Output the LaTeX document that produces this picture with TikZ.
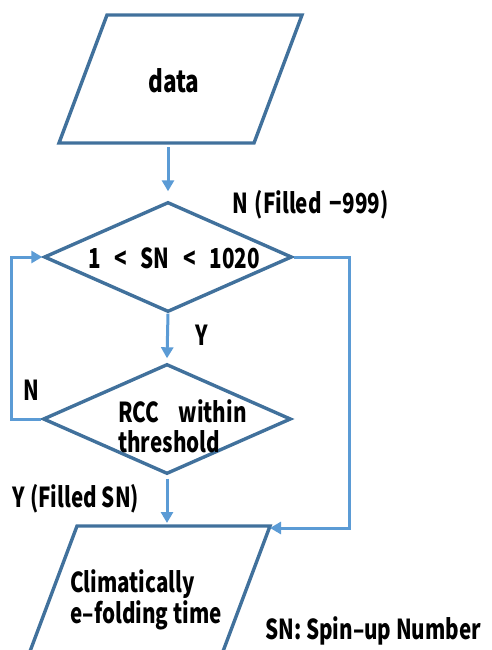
\documentclass[tikz,border=0pt]{standalone}
\usepackage{fontspec}
\setmainfont{Noto Sans CJK JP}[FakeStretch=0.75]
\usetikzlibrary{shapes.geometric,arrows.meta,calc}
\definecolor{outl}{HTML}{41719C}
\definecolor{connc}{HTML}{5B9BD5}
\begin{document}
\begin{tikzpicture}[x=1pt,y=-1pt,
  font=\fontsize{27.5}{31}\selectfont\bfseries,
  shapeline/.style={draw=outl, line width=3.4pt, line join=miter},
  conn/.style={draw=connc, line width=3pt, -{Triangle[length=11pt,width=12pt]}},
  dec/.style={shapeline, diamond, minimum width=248pt, minimum height=110pt, inner sep=0pt},
  txt/.style={inner sep=0pt, anchor=base west}]
\useasboundingbox (0,0) rectangle (491,650);
\clip (0,0) rectangle (491,650);
% input parallelogram
\coordinate (dTL) at (107,15);
\coordinate (dTR) at (302,15);
\coordinate (dBR) at (254,143);
\coordinate (dBL) at (59,143);
\draw[shapeline] (dTL) -- (dTR) -- (dBR) -- (dBL) -- cycle;
% output parallelogram
\coordinate (oTL) at (77,526);
\coordinate (oTR) at (270,526);
\coordinate (oBR) at (222,654);
\coordinate (oBL) at (29,654);
\draw[shapeline] (oTL) -- (oTR) -- (oBR) -- (oBL) -- cycle;
% decisions
\node[dec] (d1) at (168,257) {};
\node[dec] (d2) at (167,419) {};
% texts
\node[txt] (tdata) at (148,93) {\fontsize{30}{34}\selectfont data};
\node[txt] (t1) at (88,268) {1\hspace{0.5em}<\hspace{0.5em}SN\hspace{0.5em}<\hspace{0.5em}1020};
\node[txt] (t2a) at (118,422) {RCC\hspace{0.7em}within};
\node[txt] (t2b) at (118,452) {threshold};
\node[txt] (t3a) at (70,592) {Climatically};
\node[txt] (t3b) at (70,623) {e–folding time};
\node[txt] (lN1) at (232,213) {N\hspace{0.25em}(Filled\hspace{0.3em}−999)};
\node[txt] (lY1) at (195,345) {Y};
\node[txt] (lN2) at (23,400) {N};
\node[txt] (lY2) at (12,507) {Y\hspace{0.2em}(Filled SN)};
\node[txt] (note) at (265,639) {SN: Spin–up Number};
% connectors
\draw[conn] ($(dBL -| d1.north)+(0,4)$) -- ($(d1.north)+(0,-9)$);
\draw[conn] (d1.south) -- ($(d2.north)+(0,-4)$);
\draw[conn] ($(d2.south)+(0,3)$) -- ($(oTL -| d2.south)+(0,-3)$);
\draw[conn] (d2.west) -- ++(-30,0) |- (d1.west);
\draw[conn] (d1.east) -- ++(56,0) |- ($(oTR)+(0,2)$);
\end{tikzpicture}
\end{document}
